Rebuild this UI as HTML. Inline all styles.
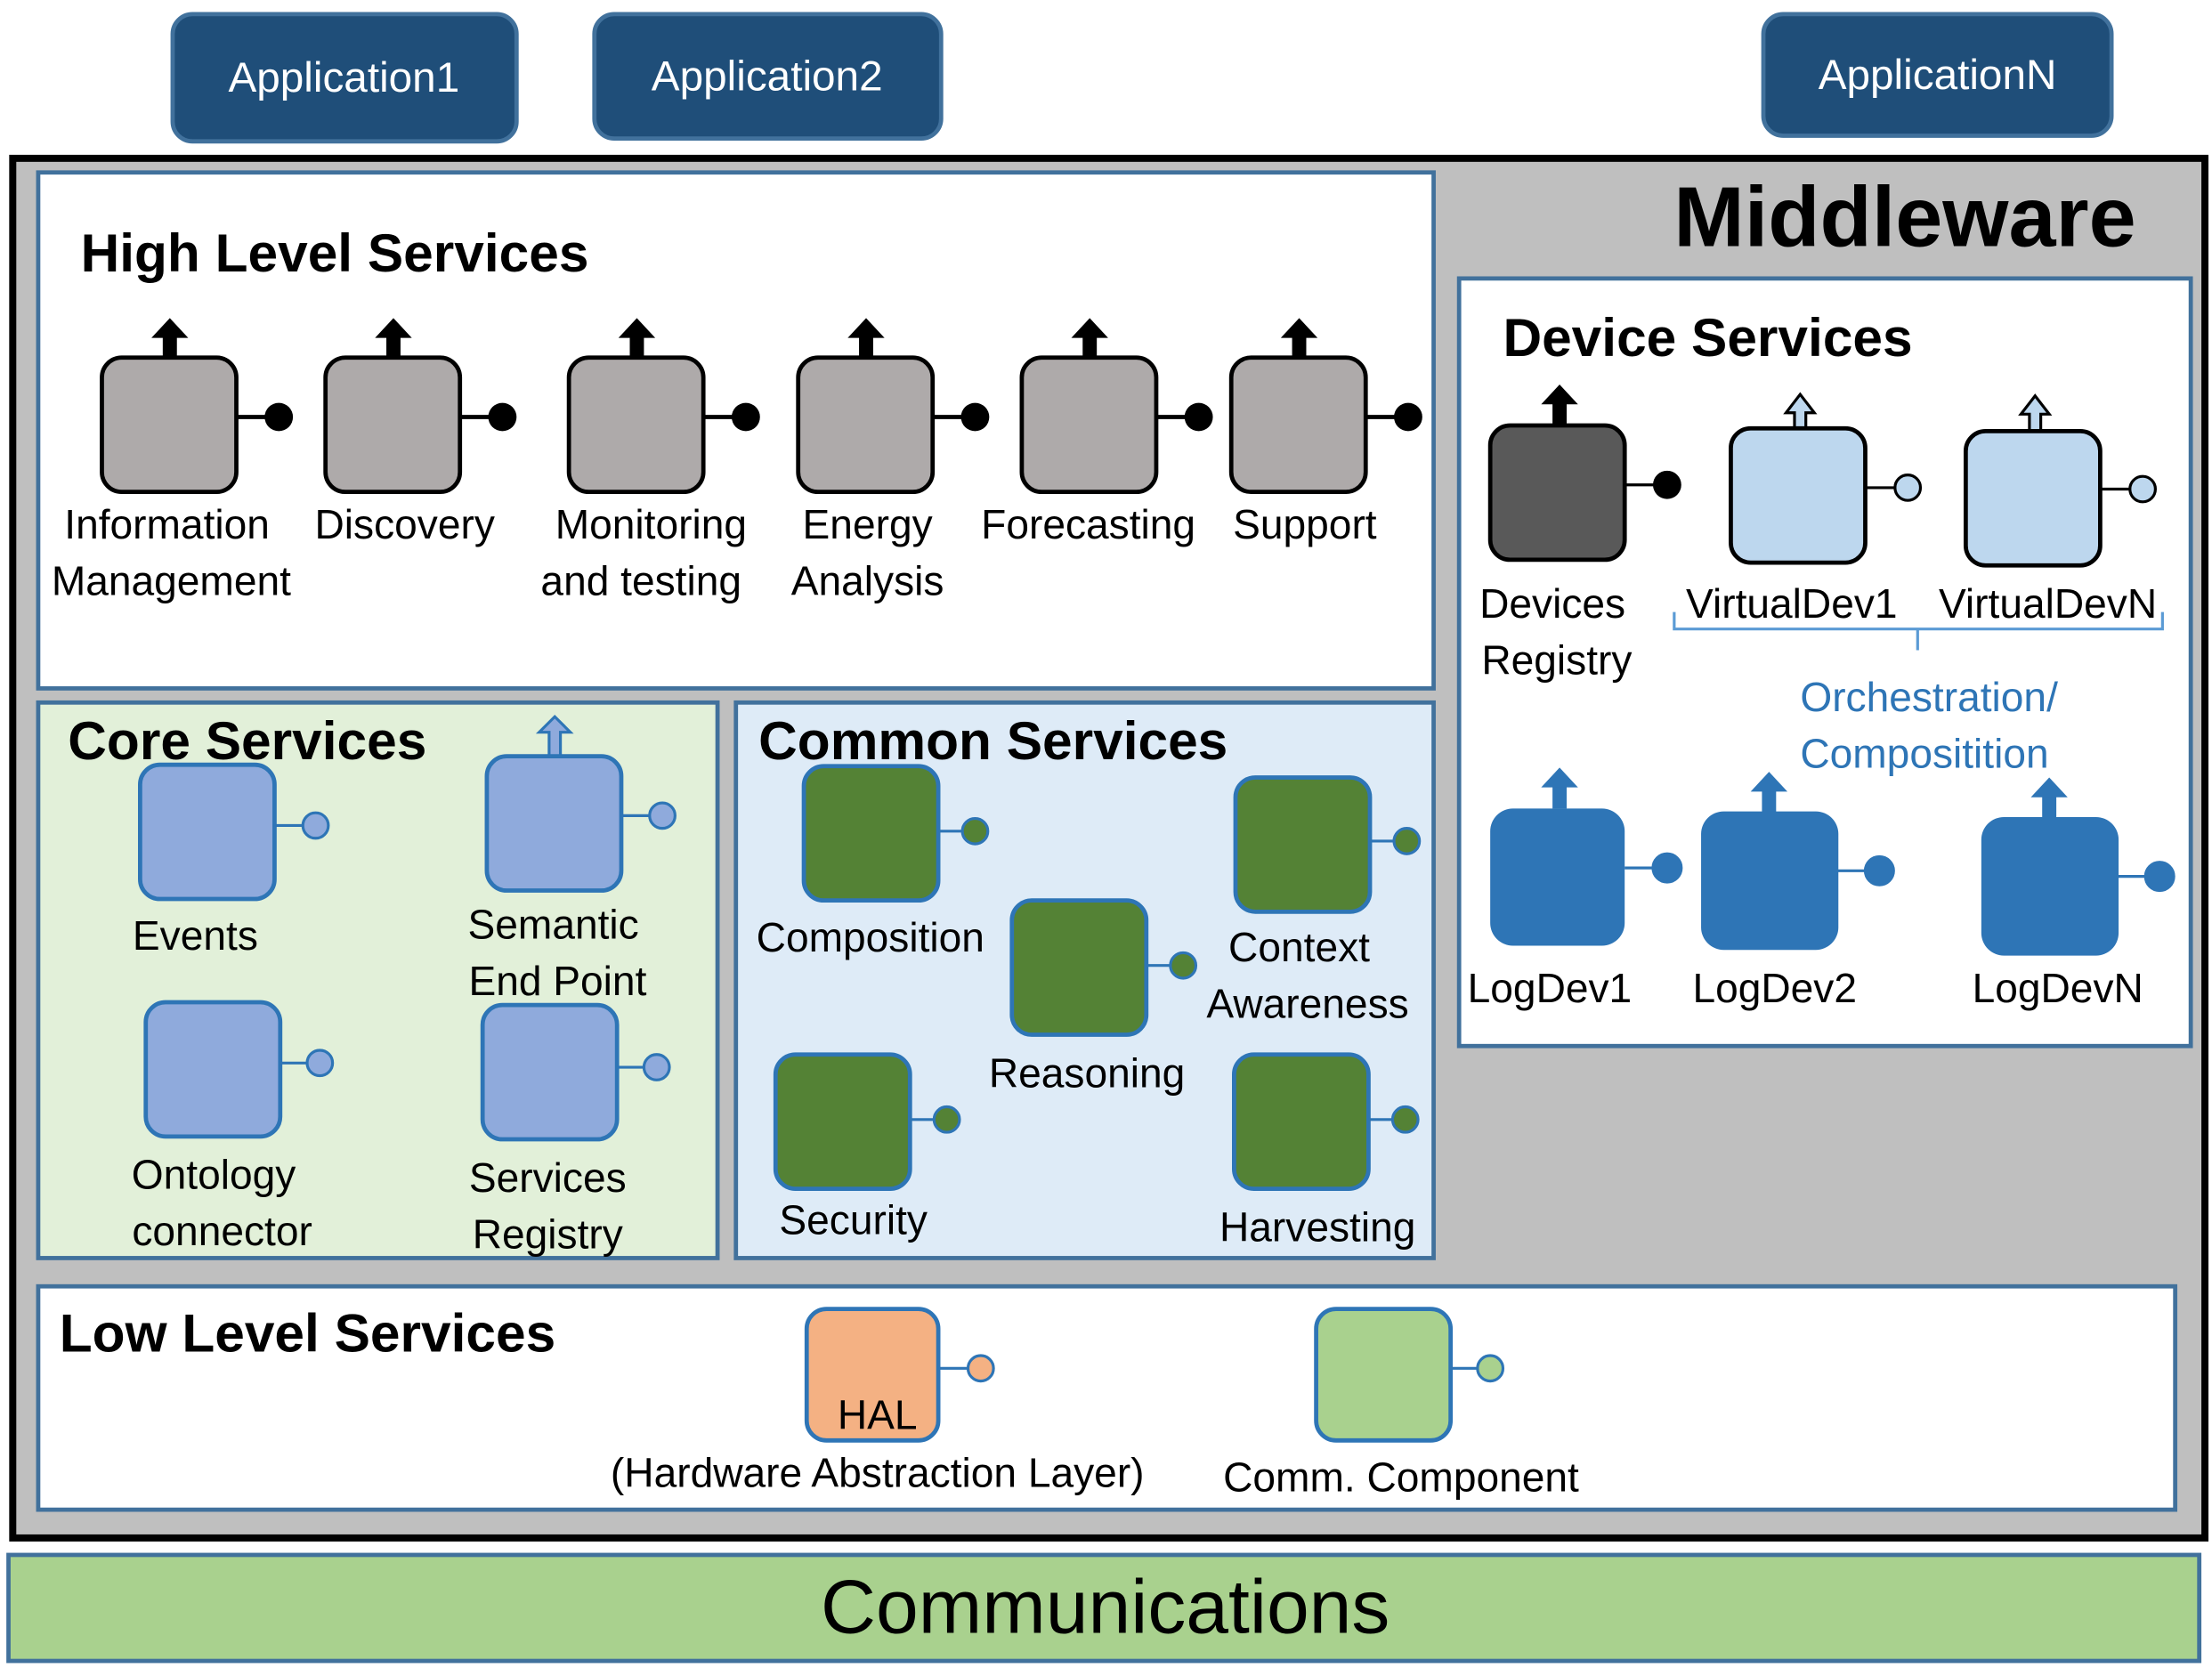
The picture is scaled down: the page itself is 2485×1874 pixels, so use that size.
<!DOCTYPE html>
<html><head><meta charset="utf-8"><style>
html,body{margin:0;padding:0;background:#fff;}
svg{display:block;}
text{font-family:"Liberation Sans",sans-serif;}
</style></head><body>
<svg width="2485" height="1874" viewBox="0 0 1563 1180" preserveAspectRatio="none" xmlns="http://www.w3.org/2000/svg">
<defs>
<g id="arrowB"><rect x="-5" y="-16" width="10" height="16"/><polygon points="-13,-15 0,-29 13,-15"/></g>
</defs>
<!-- Apps -->
<rect x="122" y="10" width="243" height="90" rx="14" fill="#1f4e79" stroke="#41719c" stroke-width="3"/>
<text x="243" y="65" font-size="30" fill="#fff" text-anchor="middle">Application1</text>
<rect x="420" y="10" width="245" height="88" rx="14" fill="#1f4e79" stroke="#41719c" stroke-width="3"/>
<text x="542" y="64" font-size="30" fill="#fff" text-anchor="middle">Application2</text>
<rect x="1246" y="10" width="246" height="86" rx="14" fill="#1f4e79" stroke="#41719c" stroke-width="3"/>
<text x="1369" y="63" font-size="30" fill="#fff" text-anchor="middle">ApplicationN</text>

<!-- Middleware -->
<rect x="9" y="112" width="1549" height="976" fill="#bfbfbf" stroke="#000" stroke-width="5"/>
<text x="1346" y="174" font-size="60" font-weight="bold" text-anchor="middle">Middleware</text>

<!-- High level -->
<rect x="27" y="122" width="986" height="365" fill="#fff" stroke="#41719c" stroke-width="3"/>
<text x="57" y="192" font-size="38" font-weight="bold">High Level Services</text>
<g stroke="#000" stroke-width="3">
<line x1="167" y1="295" x2="197" y2="295"/><line x1="325" y1="295" x2="355" y2="295"/><line x1="497" y1="295" x2="527" y2="295"/>
<line x1="659" y1="295" x2="689" y2="295"/><line x1="817" y1="295" x2="847" y2="295"/><line x1="965" y1="295" x2="995" y2="295"/>
</g>
<g fill="#000">
<circle cx="197" cy="295" r="10"/><circle cx="355" cy="295" r="10"/><circle cx="527" cy="295" r="10"/>
<circle cx="689" cy="295" r="10"/><circle cx="847" cy="295" r="10"/><circle cx="995" cy="295" r="10"/>
<use href="#arrowB" x="120" y="254"/><use href="#arrowB" x="278" y="254"/><use href="#arrowB" x="450" y="254"/>
<use href="#arrowB" x="612" y="254"/><use href="#arrowB" x="770" y="254"/><use href="#arrowB" x="918" y="254"/>
</g>
<g fill="#aeaaaa" stroke="#000" stroke-width="3">
<rect x="72" y="253" width="95" height="95" rx="14"/><rect x="230" y="253" width="95" height="95" rx="14"/>
<rect x="402" y="253" width="95" height="95" rx="14"/><rect x="564" y="253" width="95" height="95" rx="14"/>
<rect x="722" y="253" width="95" height="95" rx="14"/><rect x="870" y="253" width="95" height="95" rx="14"/>
</g>
<g font-size="29" text-anchor="middle">
<text x="118" y="381">Information</text><text x="121" y="421">Management</text>
<text x="286" y="381">Discovery</text>
<text x="460" y="381">Monitoring</text><text x="453" y="421">and testing</text>
<text x="613" y="381">Energy</text><text x="613" y="421">Analysis</text>
<text x="769" y="381">Forecasting</text>
<text x="922" y="381">Support</text>
</g>

<!-- Core -->
<rect x="27" y="497" width="480" height="393" fill="#e2f0d9" stroke="#41719c" stroke-width="3"/>
<text x="48" y="537" font-size="38" font-weight="bold">Core Services</text>
<g stroke="#2e75b6" stroke-width="2" fill="#8faadc">
<line x1="194" y1="584" x2="223" y2="584"/><line x1="439" y1="577" x2="468" y2="577"/>
<line x1="198" y1="752" x2="226" y2="752"/><line x1="436" y1="755" x2="464" y2="755"/>
<circle cx="223" cy="584" r="9"/><circle cx="468" cy="577" r="9"/><circle cx="226" cy="752" r="9"/><circle cx="464" cy="755" r="9"/>
<polygon points="388,535 388,518 381,518 392,507 403,518 396,518 396,535"/>
</g>
<g fill="#8faadc" stroke="#2e75b6" stroke-width="3">
<rect x="99" y="541" width="95" height="95" rx="14"/><rect x="344" y="535" width="95" height="95" rx="14"/>
<rect x="103" y="709" width="95" height="95" rx="14"/><rect x="341" y="711" width="95" height="95" rx="14"/>
</g>
<g font-size="29" text-anchor="middle">
<text x="138" y="672">Events</text>
<text x="391" y="664">Semantic</text><text x="394" y="704">End Point</text>
<text x="151" y="841">Ontology</text><text x="157" y="881">connector</text>
<text x="387" y="843">Services</text><text x="387" y="883">Registry</text>
</g>

<!-- Common -->
<rect x="520" y="497" width="493" height="393" fill="#deebf7" stroke="#41719c" stroke-width="3"/>
<text x="536" y="537" font-size="38" font-weight="bold">Common Services</text>
<g stroke="#2e75b6" stroke-width="2" fill="#548235">
<line x1="663" y1="588" x2="689" y2="588"/><line x1="968" y1="595" x2="994" y2="595"/>
<line x1="810" y1="683" x2="836" y2="683"/><line x1="643" y1="792" x2="669" y2="792"/><line x1="967" y1="792" x2="993" y2="792"/>
<circle cx="689" cy="588" r="9"/><circle cx="994" cy="595" r="9"/><circle cx="836" cy="683" r="9"/><circle cx="669" cy="792" r="9"/><circle cx="993" cy="792" r="9"/>
</g>
<g fill="#548235" stroke="#2e75b6" stroke-width="3">
<rect x="568" y="542" width="95" height="95" rx="14"/><rect x="873" y="550" width="95" height="95" rx="14"/>
<rect x="715" y="637" width="95" height="95" rx="14"/><rect x="548" y="746" width="95" height="95" rx="14"/>
<rect x="872" y="746" width="95" height="95" rx="14"/>
</g>
<g font-size="29" text-anchor="middle">
<text x="615" y="673">Composition</text>
<text x="918" y="680">Context</text><text x="924" y="720">Awareness</text>
<text x="768" y="769">Reasoning</text>
<text x="603" y="873">Security</text>
<text x="931" y="878">Harvesting</text>
</g>

<!-- Device services -->
<rect x="1031" y="197" width="517" height="543" fill="#fff" stroke="#41719c" stroke-width="3"/>
<text x="1062" y="252" font-size="38" font-weight="bold">Device Services</text>
<line x1="1148" y1="343" x2="1178" y2="343" stroke="#000" stroke-width="2"/>
<circle cx="1178" cy="343" r="10" fill="#000"/>
<use href="#arrowB" x="1102" y="301"/>
<rect x="1053" y="301" width="95" height="95" rx="14" fill="#595959" stroke="#000" stroke-width="3"/>
<g stroke="#000" stroke-width="2" fill="#bdd7ee">
<line x1="1318" y1="345" x2="1348" y2="345"/><line x1="1484" y1="346" x2="1514" y2="346"/>
<circle cx="1348" cy="345" r="9"/><circle cx="1514" cy="346" r="9"/>
<polygon points="1268,304 1268,292 1262,292 1272,279 1282,292 1276,292 1276,304"/>
<polygon points="1434,305 1434,293 1428,293 1438,280 1448,293 1442,293 1442,305"/>
</g>
<g fill="#bdd7ee" stroke="#000" stroke-width="3">
<rect x="1223" y="303" width="95" height="95" rx="14"/><rect x="1389" y="305" width="95" height="95" rx="14"/>
</g>
<path d="M1183,433 v12 h172 v15 M1355,445 h173 v-12" fill="none" stroke="#5b9bd5" stroke-width="2"/>
<g fill="#2e75b6" stroke="#2e75b6" stroke-width="2">
<line x1="1148" y1="614" x2="1178" y2="614"/><line x1="1298" y1="616" x2="1328" y2="616"/><line x1="1496" y1="620" x2="1526" y2="620"/>
<circle cx="1178" cy="614" r="10"/><circle cx="1328" cy="616" r="10"/><circle cx="1526" cy="620" r="10"/>
</g>
<g fill="#2e75b6">
<use href="#arrowB" x="1102" y="572"/><use href="#arrowB" x="1250" y="575"/><use href="#arrowB" x="1448" y="579"/>
<rect x="1053" y="572" width="95" height="97" rx="16"/><rect x="1202" y="574" width="97" height="98" rx="16"/>
<rect x="1400" y="578" width="97" height="98" rx="16"/>
</g>
<g font-size="29" text-anchor="middle">
<text x="1097" y="437">Devices</text><text x="1100" y="477">Registry</text>
<text x="1266" y="437">VirtualDev1</text><text x="1447" y="437">VirtualDevN</text>
<text x="1095" y="709">LogDev1</text><text x="1254" y="709">LogDev2</text><text x="1454" y="709">LogDevN</text>
</g>
<g font-size="29" fill="#2e75b6">
<text x="1272" y="503">Orchestration/</text><text x="1272" y="543">Compositition</text>
</g>

<!-- Low level -->
<rect x="27" y="910" width="1510" height="158" fill="#fff" stroke="#41719c" stroke-width="3"/>
<text x="42" y="956" font-size="38" font-weight="bold">Low Level Services</text>
<g stroke="#2e75b6" stroke-width="2">
<line x1="663" y1="968" x2="693" y2="968"/><circle cx="693" cy="968" r="9" fill="#f4b183"/>
<line x1="1025" y1="968" x2="1053" y2="968"/><circle cx="1053" cy="968" r="9" fill="#a9d18e"/>
</g>
<rect x="570" y="926" width="93" height="93" rx="14" fill="#f4b183" stroke="#2e75b6" stroke-width="3"/>
<rect x="930" y="926" width="95" height="93" rx="14" fill="#a9d18e" stroke="#2e75b6" stroke-width="3"/>
<g font-size="29" text-anchor="middle">
<text x="620" y="1011">HAL</text>
<text x="620" y="1052">(Hardware Abstraction Layer)</text>
<text x="990" y="1055">Comm. Component</text>
</g>

<!-- Communications -->
<rect x="6" y="1100" width="1548" height="75" fill="#a9d18e" stroke="#41719c" stroke-width="3"/>
<text x="781" y="1155" font-size="54" text-anchor="middle">Communications</text>
</svg>
</body></html>
